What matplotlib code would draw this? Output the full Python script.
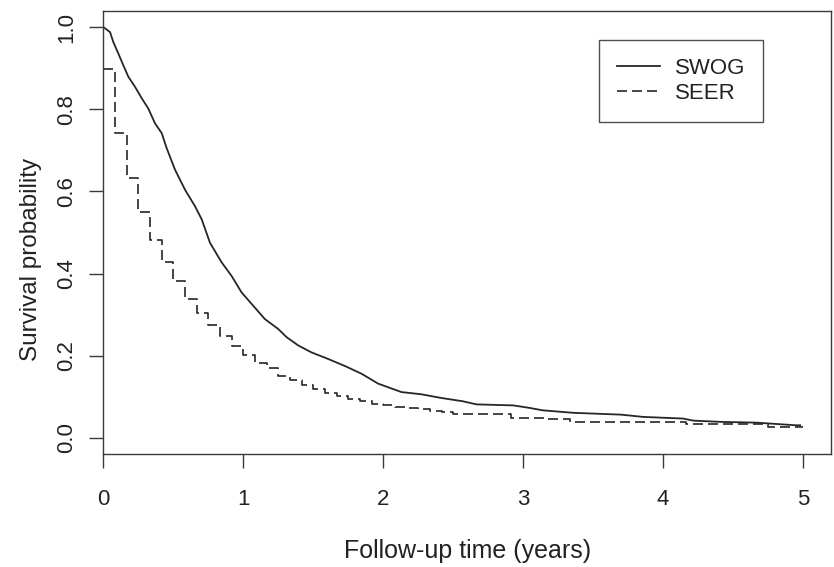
import numpy as np
import matplotlib
matplotlib.use("Agg")
import matplotlib.pyplot as plt

plt.rcParams['font.family'] = ['Liberation Sans', 'DejaVu Sans']

# SWOG Kaplan-Meier curve (years, survival)
swog_time = [0.0, 0.048, 0.071, 0.107, 0.143, 0.179, 0.226, 0.274, 0.321, 0.369,
             0.417, 0.453, 0.512, 0.584, 0.655, 0.703, 0.762, 0.846, 0.917, 0.988,
             1.06, 1.155, 1.25, 1.31, 1.393, 1.488, 1.607, 1.726, 1.846, 1.964,
             2.13, 2.274, 2.417, 2.57, 2.667, 2.93, 3.05, 3.14, 3.357, 3.70,
             3.857, 4.143, 4.214, 4.405, 4.667, 4.95, 4.98]
swog_surv = [1.0, 0.988, 0.964, 0.936, 0.907, 0.879, 0.855, 0.827, 0.802, 0.766,
             0.742, 0.705, 0.653, 0.604, 0.564, 0.532, 0.475, 0.427, 0.394, 0.354,
             0.326, 0.289, 0.265, 0.245, 0.225, 0.208, 0.192, 0.175, 0.156, 0.132,
             0.1115, 0.106, 0.097, 0.089, 0.0815, 0.079, 0.0727, 0.067, 0.061, 0.0565,
             0.051, 0.047, 0.042, 0.039, 0.037, 0.0306, 0.0306]

# SEER monthly survival steps
seer_time = [0.0, 0.0833, 0.1667, 0.25, 0.3333, 0.4167, 0.5, 0.5833, 0.6667, 0.75,
             0.8333, 0.9167, 1.0, 1.0833, 1.1667, 1.25, 1.3333, 1.4167, 1.5, 1.5833,
             1.6667, 1.75, 1.8333, 1.9167, 2.0, 2.0833, 2.1667, 2.25, 2.3333, 2.4167,
             2.5, 2.9167, 3.1667, 3.3333, 4.1667, 4.75, 5.0]
seer_surv = [0.897, 0.742, 0.633, 0.550, 0.481, 0.428, 0.382, 0.338, 0.305, 0.275,
             0.247, 0.223, 0.202, 0.183, 0.170, 0.150, 0.140, 0.128, 0.118, 0.110,
             0.103, 0.095, 0.089, 0.083, 0.079, 0.074, 0.072, 0.070, 0.065, 0.0625,
             0.057, 0.048, 0.045, 0.039, 0.033, 0.027, 0.027]

x_ticks = [0, 1, 2, 3, 4, 5]
y_ticks = [0.0, 0.2, 0.4, 0.6, 0.8, 1.0]

fig = plt.figure(figsize=(8.34, 5.67), dpi=100)
ax = fig.add_axes([0.1239, 0.1988, 0.8725, 0.7823])

line_col = '#262626'
# SWOG has many tiny steps, so it reads as a continuous line
ax.plot(swog_time, swog_surv, color=line_col, lw=1.3, label='SWOG')
ax.step(seer_time, seer_surv, where='post', color=line_col, lw=1.2,
        dashes=(6.0, 3.0), label='SEER')

ax.set_xlim(0, 5.2)
ax.set_ylim(-0.04, 1.04)
ax.set_xticks(x_ticks)
ax.set_xticklabels([str(v) for v in x_ticks])
ax.set_yticks(y_ticks)
ax.set_yticklabels([f'{v:.1f}' for v in y_ticks], rotation=90, va='center')

for s in ax.spines.values():
    s.set_color('#3a3a3a')
    s.set_linewidth(1.0)
ax.tick_params(axis='both', length=10, width=1.0, color='#3a3a3a',
               labelsize=16, labelcolor='#222222')
ax.tick_params(axis='x', pad=15)
ax.tick_params(axis='y', pad=9)

ax.set_xlabel('Follow-up time (years)', fontsize=18, color='#222222')
ax.xaxis.set_label_coords(0.5, -0.19)
ax.set_ylabel('Survival probability', fontsize=17.5, color='#222222')
ax.yaxis.set_label_coords(-0.084, 0.44)

leg = ax.legend(loc='upper right', bbox_to_anchor=(0.9066, 0.934), fontsize=16,
                frameon=True, fancybox=False, handlelength=1.95, handletextpad=0.65,
                labelspacing=0.2, borderpad=0.8, borderaxespad=0)
leg.get_frame().set_edgecolor('#222222')
leg.get_frame().set_linewidth(1.0)
for t in leg.get_texts():
    t.set_color('#222222')

fig.savefig('out.png', dpi=100)
